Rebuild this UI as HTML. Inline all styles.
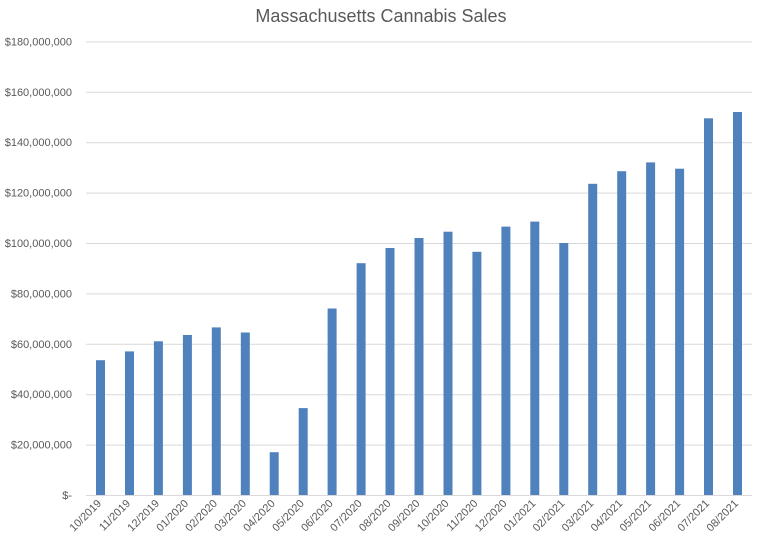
<!DOCTYPE html>
<html><head><meta charset="utf-8"><style>
html,body{margin:0;padding:0;background:#fff;}
svg{display:block;font-family:"Liberation Sans",Arial,sans-serif;}
</style></head><body>
<svg width="763" height="552" viewBox="0 0 763 552" xmlns="http://www.w3.org/2000/svg">
<rect width="763" height="552" fill="#fff"/>
<text x="381" y="22" text-anchor="middle" font-size="18" fill="#595959">Massachusetts Cannabis Sales</text>
<g id="grid" stroke="#d9d9d9" stroke-width="1"></g>
<g id="ylab" font-size="11" fill="#595959" text-anchor="end"></g>
<g id="bars" fill="#4f81bd"></g>
<g id="xlab" font-size="11" fill="#595959" text-anchor="end"></g>
</svg>
<script>
var ns="http://www.w3.org/2000/svg";
function el(t,a,p,txt){var e=document.createElementNS(ns,t);for(var k in a)e.setAttribute(k,a[k]);if(txt)e.textContent=txt;document.getElementById(p).appendChild(e);}
var base=495,ppm=50.4/20;
var yl=["$-","$20,000,000","$40,000,000","$60,000,000","$80,000,000","$100,000,000","$120,000,000","$140,000,000","$160,000,000","$180,000,000"];
for(var i=0;i<10;i++){var y=base-i*50.4;el("line",{x1:86,x2:752,y1:y+0.5,y2:y+0.5},"grid");el("text",{x:72,y:y+4},"ylab",yl[i]);}
var v=[53.5,57,61,63.5,66.5,64.5,17,34.5,74,92,98,102,104.5,96.5,106.5,108.5,100,123.5,128.5,132,129.5,149.5,152];
v=[53.5,57,61,63.5,66.5,64.5,17,34.5,74,92,98,102,104.5,96.5,106.5,108.5,100,123.5,128.5,132,129.5,149.5,152];
var lab=["10/2019","11/2019","12/2019","01/2020","02/2020","03/2020","04/2020","05/2020","06/2020","07/2020","08/2020","09/2020","10/2020","11/2020","12/2020","01/2021","02/2021","03/2021","04/2021","05/2021","06/2021","07/2021","08/2021"];
var n=lab.length, step=(733-96)/(n-1);
for(var i=0;i<n;i++){var x=96+i*step,h=v[i]*ppm;el("rect",{x:x.toFixed(1),y:(base-h).toFixed(1),width:9,height:h.toFixed(1)},"bars");
var cx=x+6,cy=504;el("text",{x:cx.toFixed(1),y:cy,transform:"rotate(-45 "+cx.toFixed(1)+" "+cy+")"},"xlab",lab[i]);}
</script>
</body></html>
